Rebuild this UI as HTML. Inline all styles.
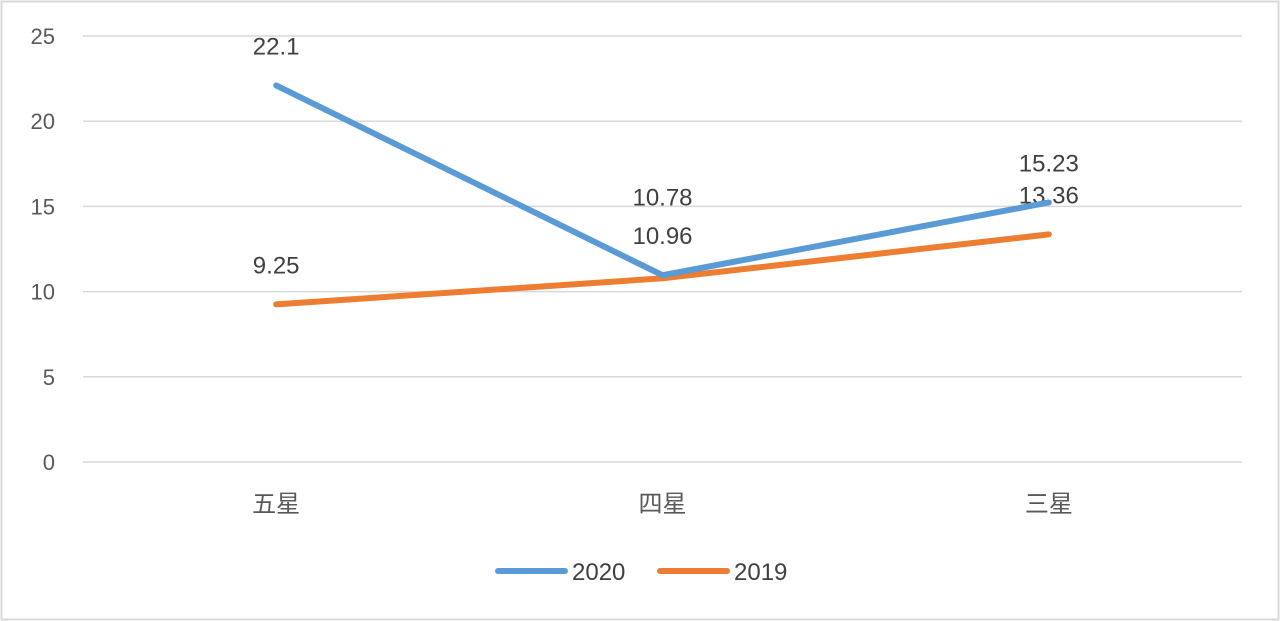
<!DOCTYPE html>
<html><head><meta charset="utf-8"><style>
html,body{margin:0;padding:0;background:#fff}
svg{display:block}
text{font-family:"Liberation Sans","Noto Sans CJK SC",sans-serif}
</style></head><body>
<svg id="chart" width="1280" height="621">
<rect x="1.5" y="1.5" width="1277" height="618" fill="#fff" stroke="#d9d9d9" stroke-width="2"/>
</svg>
<script>
const categories = ["五星","四星","三星"];
const series2020 = [22.1, 10.96, 15.23];
const series2019 = [9.25, 10.78, 13.36];
const yTicks = [0,5,10,15,20,25];
const NS = "http://www.w3.org/2000/svg";
const svg = document.getElementById("chart");
const x0 = 83, x1 = 1242, yBase = 462, yTop = 36, yMax = 25;
const band = (x1 - x0) / categories.length;
const xS = i => x0 + band * (i + 0.5);
const yS = v => yBase - (yBase - yTop) * v / yMax;
function mk(tag, attrs, txt){ const e=document.createElementNS(NS,tag); for(const k in attrs) e.setAttribute(k,attrs[k]); if(txt!==undefined) e.textContent=txt; svg.appendChild(e); return e; }
yTicks.forEach(t=>{
  const g = mk("line",{x1:x0,x2:x1,y1:yS(t),y2:yS(t),stroke:"#d9d9d9","stroke-width":1.5});
  
  
  const l = mk("text",{x:55,y:yS(t)+8,"text-anchor":"end","font-size":22,fill:"#595959"},String(t));
  
  
});
categories.forEach((c,i)=>{
  const l = mk("text",{x:xS(i),y:512,"text-anchor":"middle","font-size":24,fill:"#595959"},c);
  
  
});
function drawSeries(vals,color,name,offsets){
  const p = mk("polyline",{points:vals.map((v,i)=>xS(i)+","+yS(v)).join(" "),fill:"none",stroke:color,"stroke-width":6,"stroke-linejoin":"round","stroke-linecap":"round"});
  
  
  vals.forEach((v,i)=>{
    const t = mk("text",{x:xS(i),y:yS(v)-31+(offsets[i]||0),"text-anchor":"middle","font-size":24,fill:"#404040"},String(v));
    
    
  });
}
drawSeries(series2019,"#ed7d31","series-2019",[0,-42,0]);
drawSeries(series2020,"#5b9bd5","series-2020",[0,0,0]);
[["#5b9bd5","2020",498],["#ed7d31","2019",660]].forEach(([c,n,x])=>{
  const l = mk("line",{x1:x,x2:x+67,y1:571,y2:571,stroke:c,"stroke-width":6,"stroke-linecap":"round"});
  
  
  const t = mk("text",{x:x+74,y:580,"font-size":24,fill:"#404040"},n);
  
  
});
</script>
</body></html>
